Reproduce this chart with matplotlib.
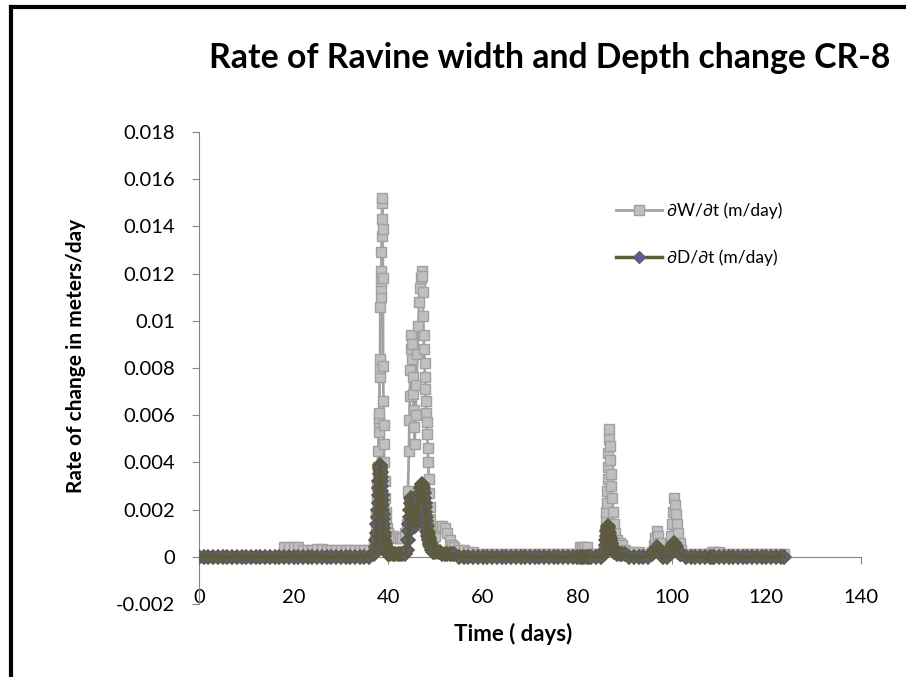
import matplotlib.pyplot as plt
from matplotlib.lines import Line2D

plt.rcParams['font.family'] = ['Lato', 'DejaVu Sans']

# Time (days) and the two rates of change (m/day)
days = [
    0, 1, 2, 3, 4, 5, 6, 7, 8, 9, 10, 11, 12, 13, 14, 15, 16, 17,
    18, 19, 20, 21, 22, 23, 24, 25, 26, 27, 28, 29, 30, 31, 32, 33, 34, 35, 36,
    37.0, 37.2, 37.4, 37.5, 37.6, 37.7, 37.8, 37.9, 38.0, 38.05, 38.1, 38.15,
    38.2, 38.25, 38.3, 38.35, 38.4, 38.45, 38.5, 38.55, 38.6, 38.65, 38.7,
    38.75, 38.8, 38.85, 38.9, 38.95, 39.0, 39.05, 39.1, 39.2, 39.3, 39.4,
    39.5, 39.6, 39.8, 40.0,
    40.5, 41, 41.5, 42, 42.5, 43, 43.5,
    44.0, 44.2, 44.4, 44.5, 44.6, 44.7, 44.8, 44.9, 45.0, 45.1, 45.2, 45.3,
    45.4, 45.5, 45.6, 45.8, 46.0, 46.2, 46.4, 46.6, 46.8, 47.0, 47.1, 47.2,
    47.3, 47.4, 47.5, 47.6, 47.7, 47.8, 47.9, 48.0, 48.1, 48.2, 48.3, 48.4,
    48.5, 48.6, 48.7, 48.8, 48.9, 49.0, 49.3, 49.6,
    50, 50.5, 51, 51.5, 52, 52.5, 53, 53.5, 54, 55, 56, 57, 58, 59,
    60, 61, 62, 63, 64, 65, 66, 67, 68, 69, 70, 71, 72, 73, 74, 75, 76, 77,
    78, 79, 80, 80.5, 81, 81.5, 82, 82.5, 83, 84, 85,
    85.6, 85.8, 86.0, 86.1, 86.2, 86.3, 86.4, 86.5, 86.6, 86.7, 86.8, 86.9,
    87.0, 87.1, 87.2, 87.4, 87.6, 87.8, 88.0, 88.5, 89, 89.5, 90,
    91, 92, 93, 94, 95, 95.8, 96.2, 96.5, 96.8, 97.1, 97.4, 97.8, 98.2, 99,
    99.6, 99.9, 100.1, 100.3, 100.5, 100.7, 100.9, 101.1, 101.4, 101.7, 102,
    103, 104, 105, 106, 107, 108, 108.5, 109, 110, 111, 112, 113, 114, 115,
    116, 117, 118, 119, 120, 121, 122, 123, 123.7,
]

dw_dt = [
    0, 0, 0, 0, 0, 0, 0, 0, 0, 0, 0, 0, 0, 0, 0, 0, 0, 0,
    0.0004, 0.0004, 0.0004, 0.0004, 0.0003, 0.0003, 0.0003, 0.00035, 0.00035,
    0.0003, 0.0003, 0.0003, 0.0003, 0.0003, 0.0003, 0.0003, 0.0003, 0.0003, 0.0003,
    0.0005, 0.0007, 0.0012, 0.0018, 0.0024, 0.0030, 0.0038, 0.0045, 0.0053,
    0.0057, 0.0059, 0.0061, 0.0076, 0.0080, 0.0084, 0.0106, 0.0110, 0.0114,
    0.0117, 0.0121, 0.0129, 0.0136, 0.0143, 0.0150, 0.0152, 0.0139, 0.0118,
    0.0081, 0.0066, 0.0056, 0.0048, 0.0040, 0.0032, 0.0025, 0.0019, 0.0015,
    0.0012, 0.0010,
    0.0009, 0.0009, 0.0008, 0.0008, 0.0008, 0.0008, 0.0010,
    0.0014, 0.0028, 0.0045, 0.0058, 0.0068, 0.0079, 0.0088, 0.0094, 0.0090,
    0.0084, 0.0076, 0.0069, 0.0062, 0.0055, 0.0048, 0.0060, 0.0073, 0.0086,
    0.0098, 0.0108, 0.0114, 0.0118, 0.0121, 0.0119, 0.0112, 0.0102, 0.0094,
    0.0088, 0.0082, 0.0076, 0.0071, 0.0066, 0.0061, 0.0057, 0.0052, 0.0046,
    0.0040, 0.0033, 0.0027, 0.0021, 0.0016, 0.0012, 0.0009, 0.0008,
    0.0009, 0.0012, 0.0013, 0.0013, 0.0012, 0.0010, 0.0007, 0.0005, 0.0004,
    0.0003, 0.0003, 0.0002, 0.0002, 0.0001,
    0.0001, 0.0001, 0.0001, 0.0001, 0.0001, 0.0001, 0.0001, 0.0001, 0.0001,
    0.0001, 0.0001, 0.0001, 0.0001, 0.0001, 0.0001, 0.0001, 0.0001, 0.0001,
    0.0001, 0.0001, 0.0001, 0.0004, 0.0004, 0.0004, 0.0004, 0.0001, 0.0001,
    0.0001, 0.0001,
    0.0003, 0.0010, 0.0016, 0.0019, 0.0023, 0.0028, 0.0033, 0.0038, 0.0044,
    0.0050, 0.0054, 0.0047, 0.0041, 0.0035, 0.0030, 0.0025, 0.0019, 0.0014,
    0.0010, 0.0007, 0.0006, 0.0005, 0.0003,
    0.0002, 0.0002, 0.0002, 0.0001, 0.0001, 0.0002, 0.0005, 0.0008, 0.0011,
    0.0009, 0.0006, 0.0003, 0.0001, 0.0001,
    0.0004, 0.0009, 0.0014, 0.0019, 0.0025, 0.0022, 0.0018, 0.0014, 0.0010,
    0.0006, 0.0003,
    0.0001, 0.0001, 0.0001, 0.0001, 0.0001, 0.0001, 0.0002, 0.0002, 0.0002,
    0.0001, 0.0001, 0.0001, 0.0001, 0.0001, 0.0001, 0.0001, 0.0001, 0.0001,
    0.0001, 0.0001, 0.0001, 0.0001, 0.0001,
]

dd_dt = [
    0, 0, 0, 0, 0, 0, 0, 0, 0, 0, 0, 0, 0, 0, 0, 0, 0, 0,
    0, 0, 0, 0, 0, 0, 0, 0, 0, 0, 0, 0, 0, 0, 0, 0, 0, 0, 0,
    0.0001, 0.0002, 0.0004, 0.0007, 0.0010, 0.0014, 0.0017, 0.0020, 0.0023,
    0.0026, 0.0029, 0.0032, 0.0035, 0.0037, 0.0039, 0.0038, 0.0036, 0.0034,
    0.0032, 0.0030, 0.0028, 0.0026, 0.0024, 0.0022, 0.0020, 0.0018, 0.0016,
    0.0014, 0.0012, 0.0010, 0.0009, 0.0007, 0.0006, 0.0005, 0.0004, 0.0003,
    0.0002, 0.0001,
    0.0001, 0.0001, 0.0001, 0.0001, 0.0001, 0.0001, 0.0001,
    0.0003, 0.0007, 0.0011, 0.0014, 0.0017, 0.0020, 0.0023, 0.0025, 0.0024,
    0.0022, 0.0020, 0.0018, 0.0016, 0.0014, 0.0013, 0.0015, 0.0018, 0.0021,
    0.0023, 0.0025, 0.0027, 0.0029, 0.0031, 0.0030, 0.0029, 0.0028, 0.0027,
    0.0025, 0.0023, 0.0021, 0.0019, 0.0017, 0.0015, 0.0013, 0.0011, 0.0010,
    0.0009, 0.0008, 0.0007, 0.0006, 0.0005, 0.0004, 0.0003, 0.0002,
    0.0002, 0.0002, 0.0002, 0.0001, 0.0001, 0.0001, 0.0001, 0.0001, 0.0001,
    0, 0, 0, 0, 0,
    0, 0, 0, 0, 0, 0, 0, 0, 0, 0, 0, 0, 0, 0, 0, 0, 0, 0,
    0, 0, 0, 0, 0, 0, 0, 0, 0, 0, 0,
    0.0001, 0.0003, 0.0005, 0.0007, 0.0009, 0.0011, 0.0013, 0.0012, 0.0011,
    0.0010, 0.0009, 0.0008, 0.0007, 0.0006, 0.0005, 0.0004, 0.0003, 0.0002,
    0.0002, 0.0001, 0.0001, 0.0001, 0.0001,
    0, 0, 0, 0, 0, 0.0001, 0.0002, 0.0003, 0.0004, 0.0003, 0.0002, 0.0001,
    0, 0,
    0.0001, 0.0003, 0.0004, 0.0005, 0.0006, 0.0005, 0.0004, 0.0003, 0.0002,
    0.0001, 0.0001,
    0, 0, 0, 0, 0, 0, 0, 0, 0, 0, 0, 0, 0, 0, 0, 0, 0, 0, 0, 0, 0, 0, 0,
]

y_ticks = [-0.002, 0, 0.002, 0.004, 0.006, 0.008, 0.01, 0.012, 0.014, 0.016, 0.018]
y_tick_labels = ['-0.002', '0', '0.002', '0.004', '0.006', '0.008', '0.01',
                 '0.012', '0.014', '0.016', '0.018']
x_ticks = [0, 20, 40, 60, 80, 100, 120, 140]

w_line = '#a3a3a3'
d_line = '#5e5b3c'
d_face = '#5c5e8c'

fig = plt.figure(figsize=(9.06, 6.77), dpi=100)
ax = fig.add_axes([0.2196, 0.1078, 0.7307, 0.6972])

ax.plot(days, dw_dt, color=w_line, lw=2, marker='s', ms=7,
        mfc='#c0c0c0', mec='#a0a0a0', mew=1, zorder=2)
# depth markers first, then its line on top so the zero band stays olive
ax.plot(days, dd_dt, ls='none', marker='D', ms=7, mfc=d_face, mec=d_line,
        mew=1.2, zorder=3)
ax.plot(days, dd_dt, color=d_line, lw=3, zorder=4)

ax.set_xlim(0, 140)
ax.set_ylim(-0.002, 0.018)
ax.set_xticks(x_ticks)
ax.set_yticks(y_ticks)
ax.set_yticklabels(y_tick_labels)

for side in ['top', 'right']:
    ax.spines[side].set_visible(False)
ax.spines['bottom'].set_position(('data', 0))
ax.spines['bottom'].set_color('#868686')
ax.spines['left'].set_color('#868686')
ax.tick_params(axis='both', colors='#868686', labelcolor='black',
               labelsize=14.5, direction='out', length=5)
ax.tick_params(axis='x', pad=18)
ax.tick_params(axis='y', pad=12)

ax.set_xlabel('Time ( days)', fontsize=16, fontweight='bold')
ax.set_ylabel('Rate of change in meters/day', fontsize=15, fontweight='bold')
ax.xaxis.set_label_coords(0.474, -0.040)
ax.yaxis.set_label_coords(-0.17, 0.525)

fig.text(0.607, 0.914, 'Rate of Ravine width and Depth change CR-8',
         ha='center', va='center', fontsize=24.3, fontweight='bold')

handles = [
    Line2D([], [], color=w_line, lw=2, marker='s', ms=7, mfc='#c0c0c0',
           mec='#a0a0a0'),
    Line2D([], [], color=d_line, lw=2.5, marker='D', ms=6.5, mfc=d_face,
           mec=d_face),
]
ax.legend(handles, ['∂W/∂t (m/day)', '∂D/∂t (m/day)'], loc='upper left',
          bbox_to_anchor=(0.607, 0.884), frameon=False, fontsize=12.5,
          handlelength=2.6, labelspacing=1.75, handletextpad=0.3)

# chart frame (left and top edges)
fig.add_artist(Line2D([0.012, 0.012], [0, 0.99], color='black', lw=3))
fig.add_artist(Line2D([0.012, 1.0], [0.99, 0.99], color='black', lw=3))

fig.savefig('out.png', dpi=100)
